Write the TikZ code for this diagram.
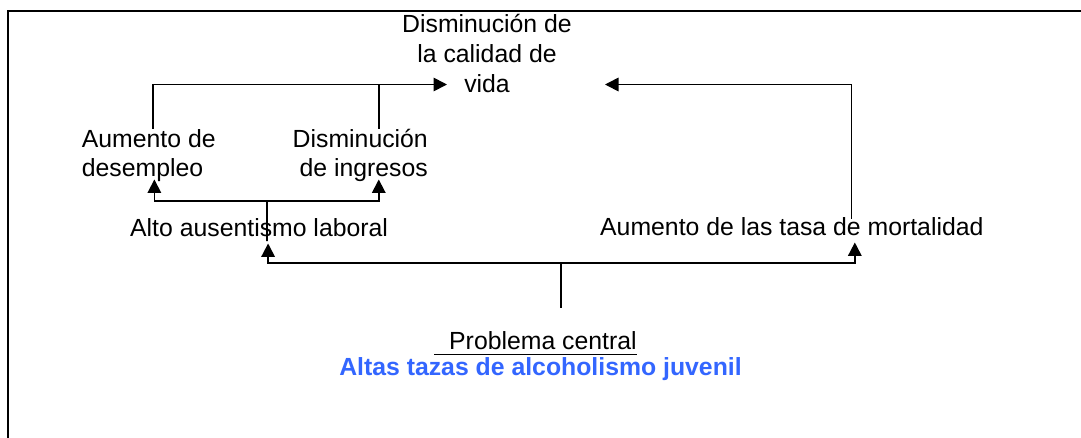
\documentclass[tikz,border=0pt]{standalone}
\usepackage{fontspec}
\setmainfont{Liberation Sans}
\usetikzlibrary{arrows.meta,calc}
\definecolor{blu}{HTML}{3366FF}
\begin{document}
\begin{tikzpicture}[x=1pt,y=-1pt,
  txt/.style={inner sep=0pt, font=\fontsize{24.8pt}{29.7pt}\selectfont},
  conn/.style={line width=1.7pt},
  arr/.style={conn,-{Triangle[width=13.5pt,length=13.5pt]}},
  frame/.style={line width=2pt}]
\useasboundingbox (0,0) rectangle (1081,437);
\draw[frame] (8,445) -- (8,10.5) -- (1090,10.5);

\node[txt,align=center,anchor=base] (dcv) at (487,92) {Disminución de\\la calidad de\\vida};
\node[txt,align=left,anchor=base west] (aum) at (81.7,176.7) {Aumento de\\desempleo};
\node[txt,align=right,anchor=base east] (din) at (428,176.7) {Disminución\\de ingresos};
\node[txt,anchor=base west] (aal) at (130,236) {Alto ausentismo laboral};
\node[txt,anchor=base west] (atm) at (600,235.5) {Aumento de las tasa de mortalidad};
\node[txt,anchor=base west] (pc) at (449,349) {Problema central};
\node[txt,anchor=base,font=\fontsize{24.8pt}{29.7pt}\selectfont\bfseries,text=blu] (atj) at (540.5,375) {Altas tazas de alcoholismo juvenil};

\draw[line width=1.8pt] ($(pc.base west)+(-15,5.5)$) -- ($(pc.base east)+(0,5.5)$);

\coordinate (inL) at (447,84.5);
\coordinate (inR) at (605,84.5);
\draw[arr] ($(aum.north)+(4.3,0)$) |- (inL);
\draw[conn] ($(din.north)+(18.5,0)$) coordinate (dn) -- (dn |- inL);
\draw[arr] ($(atm.north)+(59.7,1.5)$) |- (inR);

\coordinate (j1) at (267,200.7);
\draw[conn] ($(aal.base)+(8,5)$) -- (j1);
\draw[arr] (j1) -| ($(aum.south)+(5.6,-2.6)$);
\draw[arr] (j1) -| ($(din.south)+(18.5,-2.6)$);

\coordinate (j2) at (561,262.7);
\draw[conn] ($(pc.north)+(18,-23)$) -- (j2);
\draw[arr] (j2) -| ($(aal.south)+(9,7)$);
\draw[arr] (j2) -| ($(atm.south)+(63,6.5)$);
\end{tikzpicture}
\end{document}
